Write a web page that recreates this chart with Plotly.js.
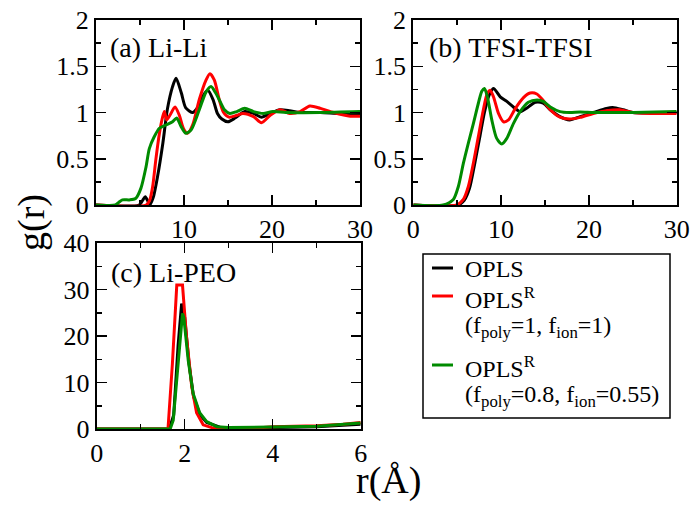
<!DOCTYPE html>
<html>
<head>
<meta charset="utf-8">
<script src="https://cdn.plot.ly/plotly-3.0.1.min.js"></script>
<style>html,body{margin:0;padding:0;background:#fff;}#chart{width:692px;height:505px;}</style>
</head>
<body>
<div id="chart"></div>
<script>
// ---------- DATA ----------
// Panel (a) Li-Li
const aBlackR = [0, 4.9, 5.3, 5.6, 5.9, 6.1, 6.5, 7.0, 7.6, 8.1, 8.7, 9.1, 9.7, 10.2, 11.0, 11.6, 12.1, 12.7, 13.3, 13.8, 14.3, 15.0, 15.8, 16.9, 17.9, 18.8, 19.8, 20.9, 22.0, 23.2, 25.5, 27.7, 30];
const aBlackG = [0, 0, 0.05, 0.09, 0.04, 0, 0.08, 0.31, 0.67, 1.03, 1.28, 1.37, 1.21, 1.05, 1.0, 1.06, 1.17, 1.24, 1.14, 0.99, 0.93, 0.90, 0.94, 1.01, 0.99, 0.95, 0.99, 1.03, 1.02, 1.0, 1.0, 0.99, 0.99];
const aRedR = [0, 5.7, 6.1, 6.44, 6.8, 7.2, 7.58, 7.77, 8.03, 8.4, 8.98, 9.47, 9.92, 10.4, 11.0, 11.74, 12.5, 12.95, 13.45, 14.0, 14.5, 15.1, 16.0, 16.7, 17.9, 18.8, 19.8, 20.9, 22.0, 23.2, 24.3, 25.5, 27.0, 28.9, 30];
const aRedG = [0, 0, 0.05, 0.2, 0.49, 0.77, 0.955, 1.01, 0.92, 0.97, 1.06, 0.97, 0.83, 0.775, 0.87, 1.14, 1.35, 1.42, 1.35, 1.14, 1.0, 0.95, 0.97, 0.99, 0.955, 0.89, 0.97, 1.03, 0.99, 1.01, 1.07, 1.045, 1.0, 0.96, 0.96];
const aGreenR = [0, 2.2, 2.6, 3.0, 3.8, 4.5, 5.1, 5.68, 6.06, 6.63, 7.2, 7.95, 8.7, 9.17, 9.66, 10.2, 10.8, 11.74, 12.5, 13.07, 13.6, 14.1, 14.6, 15.2, 16.0, 16.9, 17.9, 19.0, 20.1, 21.6, 25.5, 30];
const aGreenG = [0, 0, 0.03, 0.055, 0.055, 0.07, 0.18, 0.41, 0.61, 0.74, 0.83, 0.865, 0.9, 0.94, 0.85, 0.775, 0.81, 1.03, 1.22, 1.28, 1.21, 1.12, 1.03, 0.99, 1.01, 1.045, 1.01, 0.99, 1.01, 1.0, 1.0, 1.01];

// Panel (b) TFSI-TFSI
const bBlackR = [0, 5.1, 5.8, 6.4, 7.0, 7.6, 8.1, 8.6, 9.13, 9.9, 10.65, 11.4, 12.17, 13.1, 13.9, 14.8, 15.6, 16.7, 17.8, 19.0, 20.5, 22.0, 22.7, 23.9, 25, 30];
const bBlackG = [0, 0, 0.05, 0.18, 0.45, 0.75, 1.0, 1.18, 1.26, 1.17, 1.12, 1.06, 1.01, 1.06, 1.11, 1.1, 1.03, 0.955, 0.92, 0.955, 1.0, 1.045, 1.055, 1.03, 1.0, 1.0];
const bRedR = [0, 4.94, 5.7, 6.27, 6.84, 7.41, 7.98, 8.44, 8.75, 9.13, 9.7, 10.27, 10.84, 11.6, 12.55, 13.3, 14.07, 14.8, 15.6, 16.7, 17.8, 19.0, 20.5, 22.0, 23.5, 25.0, 27.0, 30];
const bRedG = [0, 0, 0.06, 0.2, 0.45, 0.74, 1.03, 1.21, 1.24, 1.17, 0.99, 0.9, 0.92, 1.04, 1.16, 1.21, 1.2, 1.13, 1.03, 0.95, 0.93, 0.947, 0.99, 1.02, 1.03, 1.0, 0.99, 0.99];
const bGreenR = [0, 3.4, 4.56, 5.13, 5.7, 6.27, 6.84, 7.41, 7.8, 8.1, 8.44, 8.94, 9.5, 10.08, 10.65, 11.4, 12.17, 13.1, 14.1, 14.8, 15.6, 16.7, 17.8, 19.0, 20.5, 22, 25, 30];
const bGreenG = [0, 0, 0.06, 0.2, 0.45, 0.67, 0.88, 1.1, 1.23, 1.26, 1.17, 0.92, 0.72, 0.66, 0.72, 0.88, 1.01, 1.11, 1.135, 1.12, 1.06, 1.01, 1.0, 1.005, 1.0, 1.0, 1.0, 1.01];

// Panel (c) Li-PEO
const cBlackR = [0, 1.65, 1.75, 1.85, 1.93, 2.0, 2.1, 2.2, 2.35, 2.5, 2.8, 3.0, 4.0, 5.0, 6.0];
const cBlackG = [0, 0, 3, 18, 27, 24, 14, 7, 3, 1.4, 0.4, 0.2, 0.3, 0.5, 1.0];
const cRedR = [0, 1.62, 1.72, 1.82, 1.95, 2.04, 2.16, 2.27, 2.42, 2.65, 3.0, 3.5, 4.0, 5.0, 5.6, 6.0];
const cRedG = [0, 0, 14, 31.0, 31.0, 19.9, 9.1, 3.5, 0.9, 0.2, 0.05, 0.1, 0.5, 0.7, 1.0, 1.4];
const cGreenR = [0, 1.67, 1.74, 1.85, 1.95, 1.98, 2.08, 2.19, 2.34, 2.5, 2.73, 3.0, 4.0, 5.0, 6.0];
const cGreenG = [0, 0, 1.9, 14.8, 24.9, 24, 14.8, 7.7, 3.5, 1.6, 0.5, 0.3, 0.4, 0.6, 1.3];

// Tick labels
const aXTicks = [10, 20, 30];
const bXTicks = [0, 10, 20, 30];
const abYTicks = [0, 0.5, 1, 1.5, 2];
const abYTickText = ['0', '0.5', '1', '1.5', '2'];
const cXTicks = [0, 2, 4, 6];
const cYTicks = [0, 10, 20, 30, 40];

const panelLabels = ['(a) Li-Li', '(b) TFSI-TFSI', '(c) Li-PEO'];
const seriesNames = ['OPLS', 'OPLS<sup>R</sup>', '(f<sub>poly</sub>=1, f<sub>ion</sub>=1)', 'OPLS<sup>R</sup>', '(f<sub>poly</sub>=0.8, f<sub>ion</sub>=0.55)'];
const colors = ['#000000', '#ff0000', '#008b00'];

// ---------- LAYOUT ----------
const W = 692, H = 505;
const px = x => x / W;
const py = y => 1 - y / H;
const FONT = 'Liberation Serif';

function mk(x, y, c, xa, ya, spline) {
  return {x: x, y: y, type: 'scatter', mode: 'lines', xaxis: xa, yaxis: ya,
    line: {color: c, width: 3, shape: spline ? 'spline' : 'linear', smoothing: 0.7},
    showlegend: false, hoverinfo: 'skip'};
}

const traces = [
  mk(aBlackR, aBlackG, colors[0], 'x', 'y', true),
  mk(aRedR, aRedG, colors[1], 'x', 'y', true),
  mk(aGreenR, aGreenG, colors[2], 'x', 'y', true),
  mk(bBlackR, bBlackG, colors[0], 'x2', 'y2', true),
  mk(bRedR, bRedG, colors[1], 'x2', 'y2', true),
  mk(bGreenR, bGreenG, colors[2], 'x2', 'y2', true),
  mk(cBlackR, cBlackG, colors[0], 'x3', 'y3', false),
  mk(cRedR, cRedG, colors[1], 'x3', 'y3', false),
  mk(cGreenR, cGreenG, colors[2], 'x3', 'y3', false)
];

function axis(domain, range, tickvals, ticktext, minorDtick, anchor) {
  return {
    domain: domain, range: range, anchor: anchor,
    tickmode: 'array', tickvals: tickvals, ticktext: ticktext,
    showline: true, linecolor: '#000', linewidth: 2, mirror: 'ticks',
    ticks: 'inside', ticklen: 10, tickwidth: 1.5, tickcolor: '#000',
    minor: {ticks: 'inside', ticklen: 5, dtick: minorDtick, tick0: 0, showgrid: false},
    showgrid: false, zeroline: false,
    tickfont: {family: FONT, size: 26, color: '#000'}
  };
}

const layout = {
  width: W, height: H, autosize: false,
  font: {family: FONT, size: 26, color: '#000'},
  margin: {l: 0, r: 0, t: 0, b: 0},
  paper_bgcolor: '#fff', plot_bgcolor: '#fff',
  showlegend: false,
  xaxis: axis([px(96), px(360)], [0, 30], aXTicks, aXTicks.map(String), 5, 'y'),
  yaxis: axis([py(205), py(20)], [0, 2], abYTicks, abYTickText, 0.25, 'x'),
  xaxis2: axis([px(413.3), px(676.7)], [0, 30], bXTicks, bXTicks.map(String), 5, 'y2'),
  yaxis2: axis([py(205), py(20)], [0, 2], abYTicks, abYTickText, 0.25, 'x2'),
  xaxis3: axis([px(96.7), px(360.7)], [0, 6], cXTicks, cXTicks.map(String), 1, 'y3'),
  yaxis3: axis([py(429), py(243.3)], [0, 40], cYTicks, cYTicks.map(String), 5, 'x3'),
  shapes: [
    {type: 'rect', xref: 'paper', yref: 'paper', x0: px(423), x1: px(670), y0: py(418), y1: py(254), line: {color: '#000', width: 1.5}},
    {type: 'line', xref: 'paper', yref: 'paper', x0: px(432), x1: px(453), y0: py(268), y1: py(268), line: {color: colors[0], width: 3}},
    {type: 'line', xref: 'paper', yref: 'paper', x0: px(432), x1: px(453), y0: py(296), y1: py(296), line: {color: colors[1], width: 3}},
    {type: 'line', xref: 'paper', yref: 'paper', x0: px(432), x1: px(453), y0: py(365), y1: py(365), line: {color: colors[2], width: 3}}
  ],
  annotations: [
    {text: panelLabels[0], xref: 'paper', yref: 'paper', x: px(108), y: py(48), xanchor: 'left', yanchor: 'middle', showarrow: false, font: {family: FONT, size: 28, color: '#000'}},
    {text: panelLabels[1], xref: 'paper', yref: 'paper', x: px(427), y: py(48), xanchor: 'left', yanchor: 'middle', showarrow: false, font: {family: FONT, size: 28, color: '#000'}},
    {text: panelLabels[2], xref: 'paper', yref: 'paper', x: px(109), y: py(272), xanchor: 'left', yanchor: 'middle', showarrow: false, font: {family: FONT, size: 28, color: '#000'}},
    {text: 'g(r)', xref: 'paper', yref: 'paper', x: px(32), y: py(223), xanchor: 'center', yanchor: 'middle', textangle: -90, showarrow: false, font: {family: FONT, size: 38, color: '#000'}},
    {text: 'r(Å)', xref: 'paper', yref: 'paper', x: px(388), y: py(480), xanchor: 'center', yanchor: 'middle', showarrow: false, font: {family: FONT, size: 38, color: '#000'}},
    {text: seriesNames[0], xref: 'paper', yref: 'paper', x: px(463), y: py(269), xanchor: 'left', yanchor: 'middle', showarrow: false, font: {family: FONT, size: 24, color: '#000'}},
    {text: seriesNames[1], xref: 'paper', yref: 'paper', x: px(463), y: py(298), xanchor: 'left', yanchor: 'middle', showarrow: false, font: {family: FONT, size: 24, color: '#000'}},
    {text: seriesNames[2], xref: 'paper', yref: 'paper', x: px(463), y: py(327), xanchor: 'left', yanchor: 'middle', showarrow: false, font: {family: FONT, size: 24, color: '#000'}},
    {text: seriesNames[3], xref: 'paper', yref: 'paper', x: px(463), y: py(367), xanchor: 'left', yanchor: 'middle', showarrow: false, font: {family: FONT, size: 24, color: '#000'}},
    {text: seriesNames[4], xref: 'paper', yref: 'paper', x: px(463), y: py(396), xanchor: 'left', yanchor: 'middle', showarrow: false, font: {family: FONT, size: 24, color: '#000'}}
  ]
};

Plotly.newPlot('chart', traces, layout, {staticPlot: true, displayModeBar: false});
</script>
</body>
</html>
